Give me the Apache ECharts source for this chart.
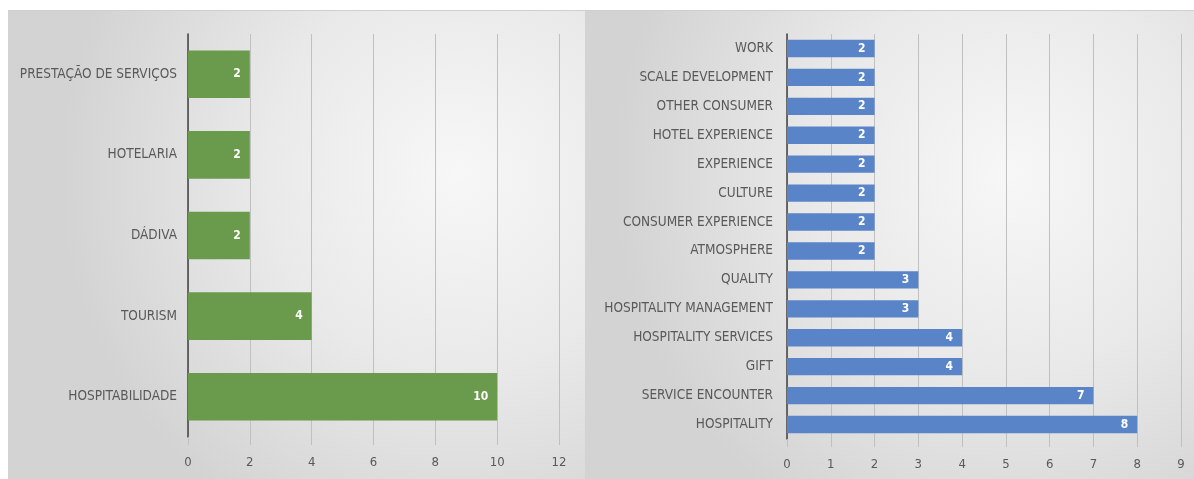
<!DOCTYPE html>
<html>
<head>
<meta charset="utf-8">
<script src="https://cdn.jsdelivr.net/npm/echarts@6/dist/echarts.min.js"></script>
<style>
  html, body { margin: 0; padding: 0; background: #ffffff; }
  #chart { width: 1194px; height: 479px; }
</style>
</head>
<body>
<div id="chart"></div>
<script>
// Left panel: Portuguese-language keywords (bottom to top)
const leftCategories = ['HOSPITABILIDADE', 'TOURISM', 'DÁDIVA', 'HOTELARIA', 'PRESTAÇÃO DE SERVIÇOS'];
const leftValues = [10, 4, 2, 2, 2];
const leftTicks = { min: 0, max: 12, interval: 2 };

// Right panel: English-language keywords (bottom to top)
const rightCategories = [
  'HOSPITALITY', 'SERVICE ENCOUNTER', 'GIFT', 'HOSPITALITY SERVICES',
  'HOSPITALITY MANAGEMENT', 'QUALITY', 'ATMOSPHERE', 'CONSUMER EXPERIENCE',
  'CULTURE', 'EXPERIENCE', 'HOTEL EXPERIENCE', 'OTHER CONSUMER',
  'SCALE DEVELOPMENT', 'WORK'
];
const rightValues = [8, 7, 4, 4, 3, 3, 2, 2, 2, 2, 2, 2, 2, 2];
const rightTicks = { min: 0, max: 9, interval: 1 };

const FONT = "'DejaVu Sans Condensed', 'Liberation Sans Narrow', 'Liberation Sans', sans-serif";
const TEXT = '#595959';
const GRID_LINE = '#c0c0c0';

function panelFill(cx) {
  return {
    type: 'radial', x: cx, y: 0.35, r: 0.85,
    colorStops: [
      { offset: 0, color: '#f7f7f7' },
      { offset: 0.5, color: '#e9e9e9' },
      { offset: 1, color: '#d3d3d3' }
    ]
  };
}

function valueAxis(gridIndex, ticks) {
  return {
    type: 'value', gridIndex,
    min: ticks.min, max: ticks.max, interval: ticks.interval,
    axisLine: { show: false },
    axisTick: { show: true, length: 8, lineStyle: { color: GRID_LINE, width: 1 } },
    splitLine: { show: true, lineStyle: { color: GRID_LINE, width: 1 } },
    axisLabel: { color: TEXT, fontFamily: FONT, fontSize: 13, margin: 19 }
  };
}

function categoryAxis(gridIndex, cats, margin) {
  return {
    type: 'category', gridIndex, data: cats,
    axisLine: { show: true, lineStyle: { color: '#404040', width: 1.5 } },
    axisTick: { show: false },
    axisLabel: { color: TEXT, fontFamily: FONT, fontSize: 13.5, margin }
  };
}

function barSeries(idx, values, color, gap) {
  return {
    type: 'bar', xAxisIndex: idx, yAxisIndex: idx,
    data: values,
    barCategoryGap: gap,
    itemStyle: { color },
    label: {
      show: true, position: 'insideRight', distance: 9,
      color: '#ffffff', fontFamily: FONT, fontSize: 12, fontWeight: 'bold'
    },
    silent: true
  };
}

const chart = echarts.init(document.getElementById('chart'), null, { renderer: 'canvas' });
chart.setOption({
  backgroundColor: '#ffffff',
  animation: false,
  graphic: [
    { type: 'rect', z: -10, shape: { x: 8, y: 10, width: 577, height: 469 }, style: { fill: panelFill(0.78) } },
    { type: 'rect', z: -10, shape: { x: 585, y: 10, width: 609, height: 469 }, style: { fill: panelFill(0.7) } },
    { type: 'line', z: -9, shape: { x1: 8, y1: 10.5, x2: 1194, y2: 10.5 }, style: { stroke: '#cfcfcf', lineWidth: 1 } }
  ],
  grid: [
    { left: 188, right: 635, top: 34, bottom: 42 },
    { left: 787, right: 13, top: 34, bottom: 40 }
  ],
  xAxis: [valueAxis(0, leftTicks), valueAxis(1, rightTicks)],
  yAxis: [categoryAxis(0, leftCategories, 11), categoryAxis(1, rightCategories, 14)],
  series: [
    barSeries(0, leftValues, '#6a9a4c', '41%'),
    barSeries(1, rightValues, '#5a84c8', '40%')
  ]
});
</script>
</body>
</html>
